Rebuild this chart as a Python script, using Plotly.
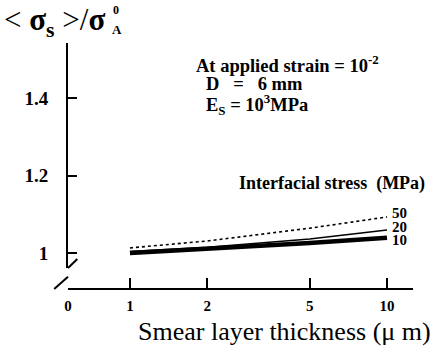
import math
import plotly.graph_objects as go

# Data
thickness = [1, 2, 5, 10]
stress_labels = ["50", "20", "10"]
ratio_50 = [1.013, 1.031, 1.064, 1.093]
ratio_20 = [1.004, 1.015, 1.036, 1.059]
ratio_10 = [1.000, 1.010, 1.026, 1.039]
x_tickvals = [0.574, 1, 2, 5, 10]
x_ticktext = ["0", "1", "2", "5", "10"]
y_tickvals = [1.0, 1.2, 1.4]
y_ticktext = ["1", "1.2", "1.4"]

SERIF = "Liberation Serif, Times New Roman, serif"

fig = go.Figure()
fig.add_trace(go.Scatter(x=thickness, y=ratio_50, mode="lines", line=dict(color="black", width=1.6, dash="dot"), showlegend=False))
fig.add_trace(go.Scatter(x=thickness, y=ratio_20, mode="lines", line=dict(color="black", width=1.5), showlegend=False))
fig.add_trace(go.Scatter(x=thickness, y=ratio_10, mode="lines", line=dict(color="black", width=4.5), showlegend=False))

# end labels for each series
for lab, ys, dy in zip(stress_labels, [ratio_50, ratio_20, ratio_10], [4, 3, -2]):
    fig.add_annotation(x=math.log10(thickness[-1]), y=ys[-1], xref="x", yref="y", text=f"<b>{lab}</b>", showarrow=False,
                       xanchor="left", xshift=3, yshift=dy, font=dict(family=SERIF, size=15, color="black"))

fig.update_layout(
    width=436, height=346,
    margin=dict(l=68, r=23, t=43, b=57),
    paper_bgcolor="white", plot_bgcolor="white",
    font=dict(family=SERIF, color="black"),
    xaxis=dict(type="log", range=[-0.241, 1.101], tickvals=x_tickvals,
               ticktext=[f"<b>{t}</b>" for t in x_ticktext],
               ticks="inside", ticklen=10, tickwidth=1.5, tickcolor="black",
               showline=True, linecolor="black", linewidth=2, showgrid=False, zeroline=False,
               anchor="free", position=0, ticklabelstandoff=3,
               tickfont=dict(family=SERIF, size=15, color="black")),
    yaxis=dict(range=[0.961, 1.542], domain=[0.085, 1], tickvals=y_tickvals,
               ticktext=[f"<b>{t}</b>" for t in y_ticktext],
               ticks="inside", ticklen=9, tickwidth=1.5, tickcolor="black",
               showline=True, linecolor="black", linewidth=2, showgrid=False, zeroline=False,
               ticklabelstandoff=14,
               tickfont=dict(family=SERIF, size=19, color="black")),
)

# axis break marks
fig.add_shape(type="line", xref="paper", yref="paper", x0=-0.04, y0=0.0, x1=0.0, y1=0.05,
              line=dict(color="black", width=2))
fig.add_shape(type="line", xref="paper", yref="paper", x0=0.0, y0=0.085, x1=0.027, y1=0.122,
              line=dict(color="black", width=2))

# y-axis title
fig.add_annotation(xref="paper", yref="paper", x=-0.19, y=1.085, xanchor="left", yanchor="middle",
                   text="&lt; <b>σ</b><sub><b>s</b></sub> &gt;/<b>σ</b>", showarrow=False,
                   font=dict(family=SERIF, size=31, color="black"))
fig.add_annotation(xref="paper", yref="paper", x=0.125, y=1.135, xanchor="left", yanchor="middle",
                   text="<b>0</b>", showarrow=False, font=dict(family=SERIF, size=12, color="black"))
fig.add_annotation(xref="paper", yref="paper", x=0.122, y=1.055, xanchor="left", yanchor="middle",
                   text="<b>A</b>", showarrow=False, font=dict(family=SERIF, size=13, color="black"))

# x-axis title
fig.add_annotation(xref="paper", yref="paper", x=1.058, y=-0.172, xanchor="right", yanchor="middle",
                   text="Smear layer thickness (μ m)", showarrow=False,
                   font=dict(family=SERIF, size=26, color="black"))

# condition text
fig.add_annotation(xref="paper", yref="paper", x=0.365, y=0.915, xanchor="left", yanchor="middle",
                   text="<b>At applied strain = 10<sup>-2</sup></b>", showarrow=False,
                   font=dict(family=SERIF, size=18.5, color="black"))
fig.add_annotation(xref="paper", yref="paper", x=0.395, y=0.835, xanchor="left", yanchor="middle",
                   text="<b>D&nbsp;&nbsp;&nbsp;=&nbsp;&nbsp;&nbsp;6 mm</b>", showarrow=False,
                   font=dict(family=SERIF, size=18.5, color="black"))
fig.add_annotation(xref="paper", yref="paper", x=0.395, y=0.75, xanchor="left", yanchor="middle",
                   text="<b>E<sub>S</sub> = 10<sup>3</sup>MPa</b>", showarrow=False,
                   font=dict(family=SERIF, size=18.5, color="black"))
fig.add_annotation(xref="paper", yref="paper", x=1.04, y=0.43, xanchor="right", yanchor="middle",
                   text="<b>Interfacial stress&nbsp;&nbsp;(MPa)</b>", showarrow=False,
                   font=dict(family=SERIF, size=18, color="black"))

fig.write_html("out.html")
